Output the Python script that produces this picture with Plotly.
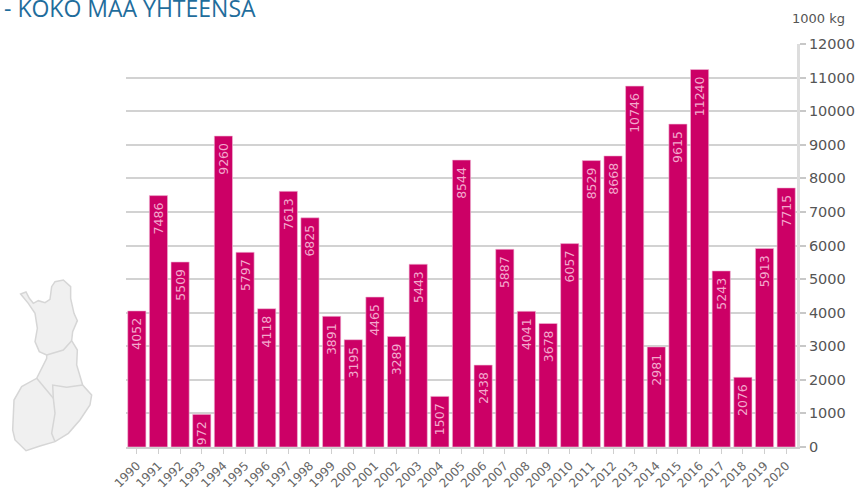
import plotly.graph_objects as go

years = [str(y) for y in range(1990, 2021)]
values = [4052, 7486, 5509, 972, 9260, 5797, 4118, 7613, 6825, 3891, 3195, 4465, 3289, 5443, 1507, 8544,
          2438, 5887, 4041, 3678, 6057, 8529, 8668, 10746, 2981, 9615, 11240, 5243, 2076, 5913, 7715]
y_ticks = list(range(0, 13000, 1000))

W, H = 866, 489
L, R, T, B = 126, 797, 44, 447

# Decorative map outline, traced in pixels of the page
outline = [(62,72),(78,66),(88,85),(100,100),(115,92),(135,98),(150,88),(155,50),(165,35),(190,30),(212,50),
           (212,85),(222,130),(232,152),(218,185),(215,212),(232,240),(230,285),(248,345),(275,375),(270,405),
           (240,450),(205,490),(165,515),(120,528),(78,542),(45,510),(38,480),(42,390),(65,350),(110,325),
           (140,265),(140,255),(118,245),(105,215),(112,175),(105,130),(85,100)]
inner = [[(140,255),(190,240),(215,212)],
         [(110,325),(160,385)],
         [(248,345),(200,352),(158,345),(160,385),(165,430),(155,490),(165,515)]]

def to_path(points, close=False):
    parts = []
    for i, (zx, zy) in enumerate(points):
        px, py = zx / 3, zy / 3 + 270
        fx, fy = (px - L) / (R - L), (B - py) / (B - T)
        parts.append(("M" if i == 0 else "L") + f"{fx:.4f},{fy:.4f}")
    return " ".join(parts) + (" Z" if close else "")

shapes = [dict(type="path", xref="paper", yref="paper", path=to_path(outline, True),
               fillcolor="#f0f0f0", line=dict(color="#d6d6d6", width=1.5), layer="below")]
shapes += [dict(type="path", xref="paper", yref="paper", path=to_path(p),
                line=dict(color="#d6d6d6", width=1.5), layer="below") for p in inner]

fig = go.Figure(go.Bar(
    x=years, y=values, text=[f"{v}\u00a0" for v in values],
    marker=dict(color="#cc0066", line=dict(color="#f0bcd6", width=0.6)),
    textposition="inside", insidetextanchor="end", textangle=-90, constraintext="none",
    textfont=dict(family="DejaVu Sans", size=12.5, color="#f3a9cd"),
    hoverinfo="x+y",
))
fig.update_layout(
    width=W, height=H, autosize=False, showlegend=False, bargap=0.16,
    margin=dict(l=L, r=W - R, t=T, b=H - B, autoexpand=False),
    paper_bgcolor="white", plot_bgcolor="white",
    font=dict(family="DejaVu Sans", color="#555555"),
    shapes=shapes,
    xaxis=dict(type="category", tickangle=-45, tickfont=dict(size=12, color="#666666"), automargin=False,
               ticks="outside", ticklen=5, tickcolor="#cfcfcf", tickwidth=1,
               showgrid=False, showline=True, linecolor="#cfcfcf", linewidth=2),
    yaxis=dict(side="right", range=[0, 12000], tickvals=y_ticks, ticktext=[str(t) for t in y_ticks], automargin=False,
               tickfont=dict(size=14.5, color="#555555"), ticks="outside", ticklen=6, tickcolor="#c8c8c8", tickwidth=2,
               showgrid=True, gridcolor="#d2d2d2", gridwidth=2, zeroline=False,
               showline=True, linecolor="#dddddd", linewidth=3),
    annotations=[
        dict(text="- KOKO MAA YHTEENSA", xref="paper", yref="paper", x=(2 - L) / (R - L), y=(B - 8.5) / (B - T),
             xanchor="left", yanchor="middle", showarrow=False,
             font=dict(family="Open Sans", size=23, color="#1f6d9c")),
        dict(text="1000 kg", xref="paper", yref="paper", x=(790 - L) / (R - L), y=(B - 18) / (B - T),
             xanchor="left", yanchor="middle", showarrow=False,
             font=dict(family="DejaVu Sans", size=13, color="#555555")),
    ],
)
fig.write_html("out.html", config=dict(displayModeBar=False),
               post_script="document.body.style.margin='0';")
